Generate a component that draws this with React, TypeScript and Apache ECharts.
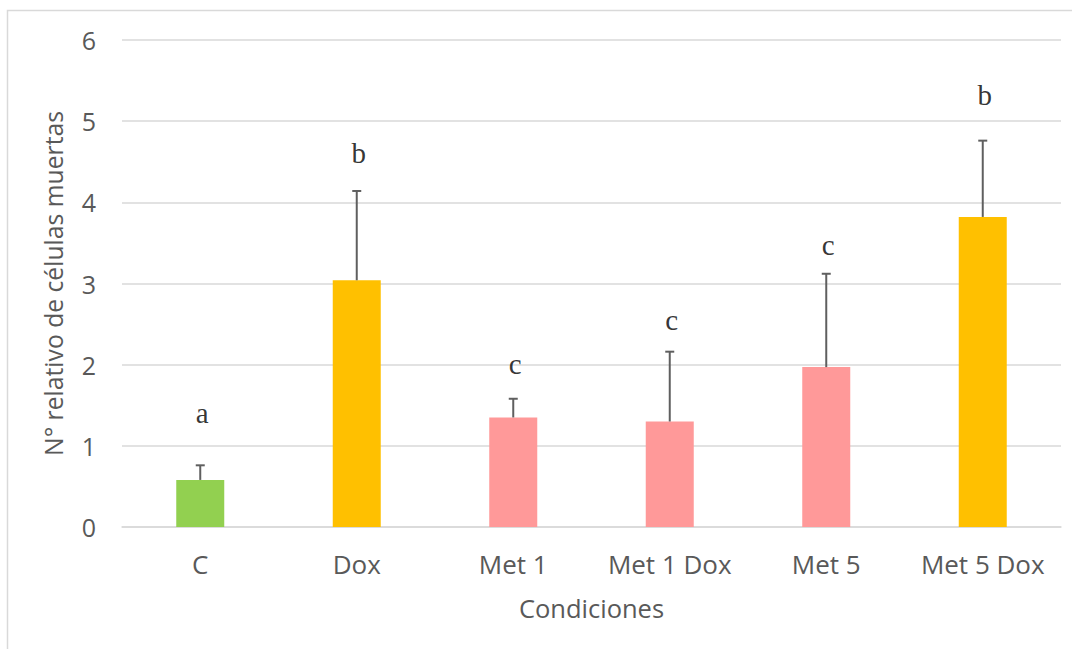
import React, { useEffect, useRef } from "react";
import * as echarts from "echarts";

const categories = ["C", "Dox", "Met 1", "Met 1 Dox", "Met 5", "Met 5 Dox"];
const means = [0.58, 3.04, 1.35, 1.3, 1.97, 3.82];
const errors = [0.18, 1.1, 0.23, 0.86, 1.15, 0.94];
const barColors = ["#92d050", "#ffc000", "#ff9999", "#ff9999", "#ff9999", "#ffc000"];
const letters = ["a", "b", "c", "c", "c", "b"];
const letterY = [1.41, 4.61, 2.01, 2.55, 3.47, 5.32];
const yTicks = [0, 1, 2, 3, 4, 5, 6];

export default function App() {
  const ref = useRef<HTMLDivElement>(null);
  useEffect(() => {
    document.body.style.margin = "0";
    const chart = echarts.init(ref.current!, null, { renderer: "svg" });
    const font = "'Open Sans', sans-serif";
    chart.setOption({
      animation: false,
      backgroundColor: "#ffffff",
      graphic: [
        {
          type: "rect",
          shape: { x: 7.5, y: 10.5, width: 1200, height: 800 },
          style: { fill: "none", stroke: "#d9d9d9", lineWidth: 1.5 },
          silent: true,
        },
      ],
      grid: { left: 122, right: 11, top: 40, bottom: 122 },
      xAxis: {
        type: "category",
        data: categories,
        axisTick: { show: false },
        axisLine: { show: true, lineStyle: { color: "#d9d9d9", width: 1.5 } },
        axisLabel: { color: "#595959", fontSize: 26, fontFamily: font, margin: 24, interval: 0 },
        name: "Condiciones",
        nameLocation: "middle",
        nameGap: 68,
        nameTextStyle: { color: "#595959", fontSize: 25.5, fontFamily: font },
      },
      yAxis: {
        type: "value",
        min: yTicks[0],
        max: yTicks[yTicks.length - 1],
        interval: 1,
        axisLine: { show: false },
        axisTick: { show: false },
        splitLine: { lineStyle: { color: "#d9d9d9", width: 1.5 } },
        axisLabel: { color: "#595959", fontSize: 25, fontFamily: font, margin: 26 },
        name: "N° relativo de células muertas",
        nameLocation: "middle",
        nameGap: 56,
        nameTextStyle: { color: "#595959", fontSize: 24.7, fontFamily: font },
      },
      series: [
        {
          type: "bar",
          barWidth: 48,
          data: means.map((m, i) => ({ value: m, itemStyle: { color: barColors[i] } })),
        },
        {
          type: "custom",
          z: 5,
          data: means.map((m, i) => [i, m, m + errors[i]]),
          encode: { x: 0, y: 2 },
          renderItem: (params: any, api: any) => {
            const x = api.value(0);
            const p0 = api.coord([x, api.value(1)]);
            const p1 = api.coord([x, api.value(2)]);
            const st = { stroke: "#5f5f5f", lineWidth: 2 };
            return {
              type: "group",
              children: [
                { type: "line", shape: { x1: p0[0], y1: p0[1], x2: p1[0], y2: p1[1] }, style: st },
                { type: "line", shape: { x1: p1[0] - 4.5, y1: p1[1], x2: p1[0] + 4.5, y2: p1[1] }, style: st },
              ],
            };
          },
        },
        {
          type: "scatter",
          z: 6,
          silent: true,
          symbolSize: 0,
          data: letterY.map((y, i) => [i, y]),
          label: {
            show: true,
            position: "inside",
            offset: [2, 0],
            formatter: (p: any) => letters[p.dataIndex],
            color: "#000000",
            fontSize: 29,
            fontFamily: "'Liberation Serif', 'Times New Roman', serif",
          },
        },
      ],
    });
    return () => chart.dispose();
  }, []);
  return (
    <div
      ref={ref}
      style={{ position: "absolute", left: 0, top: 0, width: 1072, height: 649 }}
    />
  );
}
